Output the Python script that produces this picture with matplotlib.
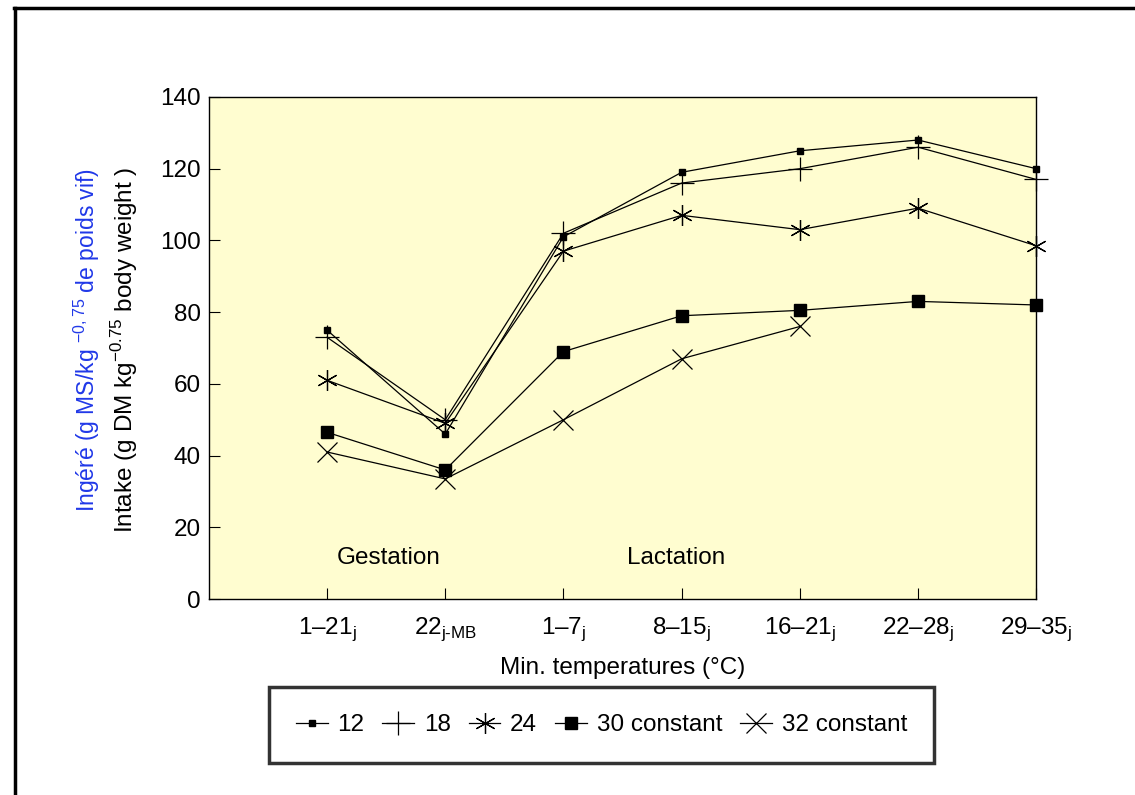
import numpy as np
import matplotlib
matplotlib.use("Agg")
import matplotlib.pyplot as plt
from matplotlib.lines import Line2D

plt.rcParams['font.family'] = ['Liberation Sans', 'DejaVu Sans']
plt.rcParams['mathtext.fontset'] = 'custom'
plt.rcParams['mathtext.rm'] = 'Liberation Sans'

# periods (x axis) and the lowered suffix of each label
periods = ["1–21", "22", "1–7", "8–15", "16–21", "22–28", "29–35"]
suffixes = ["j", r"j\text{-}MB", "j", "j", "j", "j", "j"]

# intake, g DM / kg^0.75, one list per minimum temperature
t12 = [75, 46, 101, 119, 125, 128, 120]
t18 = [73, 50, 102, 116, 120, 126, 117]
t24 = [61, 49, 97, 107, 103, 109, 98.5]
t30 = [46.5, 36, 69, 79, 80.5, 83, 82]
t32 = [41, 33.5, 50, 67, 76, np.nan, np.nan]

series_labels = ["12", "18", "24", "30 constant", "32 constant"]

fig = plt.figure(figsize=(11.35, 7.95), dpi=100)
ax = fig.add_axes([0.184, 0.2465, 0.729, 0.6315])
ax.set_facecolor('#fffdd0')

x = np.arange(len(periods))
lw = 0.9
kw = dict(color='black', lw=lw, clip_on=False, zorder=3)
ax.plot(x, t12, marker='s', ms=4.5, label=series_labels[0], **kw)
ax.plot(x, t18, marker='+', ms=17, mew=0.9, label=series_labels[1], **kw)
ax.plot(x, t24, marker=(6, 2, 0), ms=15, mew=0.9, label=series_labels[2], **kw)
ax.plot(x, t30, marker='s', ms=9, label=series_labels[3], **kw)
ax.plot(x, t32, marker='x', ms=15, mew=0.9, label=series_labels[4], **kw)

ax.set_xlim(-1, 6)
ax.set_ylim(0, 140)
ax.set_yticks(range(0, 141, 20))
ax.set_xticks(x)
ax.set_xticklabels([p + "$_{\\mathregular{" + s + "}}$" for p, s in zip(periods, suffixes)])
ax.tick_params(direction='in', length=8, width=0.8, labelsize=17.5)
ax.tick_params(axis='x', pad=12)
ax.tick_params(axis='y', pad=6)
for sp in ax.spines.values():
    sp.set_linewidth(1.0)

ax.set_xlabel("Min. temperatures (°C)", fontsize=17.5, labelpad=10)

ax.text(0.52, 11.5, "Gestation", fontsize=17.5, ha='center', va='center')
ax.text(2.95, 11.5, "Lactation", fontsize=17.5, ha='center', va='center')

fig.text(0.11, 0.56, "Intake (g DM kg$^{-0.75}$ body weight )", rotation=90,
         fontsize=17.5, ha='center', va='center')
fig.text(0.077, 0.572, "Ingéré (g MS/kg $^{-0,75}$ de poids vif)", rotation=90,
         fontsize=16.5, ha='center', va='center', color='#2038e8')

leg = fig.legend(loc='center', bbox_to_anchor=(0.53, 0.088), ncol=5, fontsize=17.5,
                 frameon=True, fancybox=False, edgecolor='black', handlelength=1.3,
                 handletextpad=0.4, columnspacing=0.75, borderpad=1.1)
leg.get_frame().set_linewidth(2.5)

# page frame of the scan
fig.add_artist(Line2D([0.012, 1.0], [0.99, 0.99], transform=fig.transFigure, color='black', lw=2.5))
fig.add_artist(Line2D([0.013, 0.013], [0.0, 0.99], transform=fig.transFigure, color='black', lw=2.5))

fig.savefig("out.png", dpi=100)
